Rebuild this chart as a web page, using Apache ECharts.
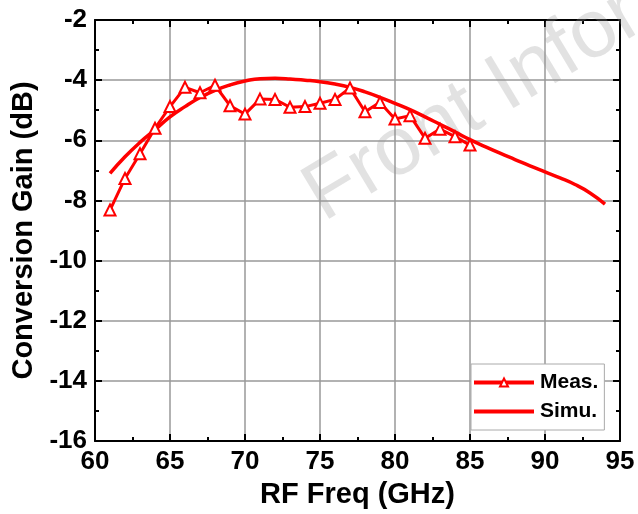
<!DOCTYPE html>
<html>
<head>
<meta charset="utf-8">
<script src="https://cdn.jsdelivr.net/npm/echarts@6/dist/echarts.min.js"></script>
<style>
  html, body { margin: 0; padding: 0; background: #fff; }
  #chart { width: 638px; height: 514px; }
</style>
</head>
<body>
<div id="chart"></div>
<script>
// Measured conversion gain (dB) versus RF frequency (GHz)
const measFreq = [61, 62, 63, 64, 65, 66, 67, 68, 69, 70, 71, 72, 73, 74, 75, 76, 77, 78, 79, 80, 81, 82, 83, 84, 85];
const measGain = [-8.32, -7.27, -6.45, -5.6, -4.88, -4.24, -4.42, -4.17, -4.85, -5.13, -4.63, -4.64, -4.9,
                  -4.88, -4.77, -4.64, -4.26, -5.05, -4.74, -5.29, -5.18, -5.93, -5.63, -5.88, -6.16];

// Simulated conversion gain (dB)
const simuFreq = [61, 62, 63, 64, 65, 66, 67, 68, 69, 70, 71, 72, 73, 74, 75, 76, 77, 78, 79, 80, 81, 82, 83, 84,
                  85, 86, 87, 88, 89, 90, 91, 92, 93, 94];
const simuGain = [-7.1, -6.55, -6.07, -5.65, -5.22, -4.88, -4.58, -4.34, -4.16, -4.03, -3.95, -3.94, -3.96, -4.0,
                  -4.05, -4.13, -4.24, -4.39, -4.57, -4.77, -4.98, -5.22, -5.47, -5.72, -5.98, -6.21, -6.43,
                  -6.64, -6.85, -7.05, -7.25, -7.47, -7.75, -8.12];

const xTicks = [60, 65, 70, 75, 80, 85, 90, 95];
const yTicks = [-16, -14, -12, -10, -8, -6, -4, -2];

const seriesNames = ['Meas.', 'Simu.'];

const FONT = '"Liberation Sans", Arial, Helvetica, sans-serif';
const RED = '#ff0000';

const pairs = (xs, ys) => xs.map((x, i) => [x, ys[i]]);

const frameLine = { show: true, onZero: false, lineStyle: { color: '#000', width: 2 } };
const tickIn = { show: true, inside: true, length: 7, lineStyle: { color: '#000', width: 2 } };
const minorIn = { show: true, splitNumber: 2, length: 4, lineStyle: { color: '#000', width: 2 } };

const xBase = {
  type: 'value',
  min: xTicks[0],
  max: xTicks[xTicks.length - 1],
  interval: xTicks[1] - xTicks[0]
};
const yBase = {
  type: 'value',
  min: yTicks[0],
  max: yTicks[yTicks.length - 1],
  interval: yTicks[1] - yTicks[0]
};

const chart = echarts.init(document.getElementById('chart'), null, { renderer: 'canvas' });

chart.setOption({
  animation: false,
  backgroundColor: '#fff',
  textStyle: { fontFamily: FONT },
  grid: { left: 95, right: 18, top: 20, bottom: 73, containLabel: false },
  graphic: [{
    type: 'text',
    x: 333,
    y: 238,
    rotation: 31 * Math.PI / 180,
    z: 1,
    silent: true,
    style: {
      text: 'Front Information',
      fontSize: 82,
      fontFamily: FONT,
      fill: 'rgba(150,150,150,0.28)',
      align: 'left',
      verticalAlign: 'bottom'
    }
  }],
  legend: {
    orient: 'vertical',
    left: 471,
    top: 364,
    width: 134,
    backgroundColor: '#fff',
    borderColor: '#aaaaaa',
    borderWidth: 1,
    padding: [8, 6, 8, 1],
    itemGap: 8,
    itemWidth: 60,
    itemHeight: 10,
    lineStyle: { width: 4 },
    data: [
      { name: seriesNames[0] },
      { name: seriesNames[1], itemStyle: { opacity: 0 } }
    ],
    textStyle: { fontFamily: FONT, fontSize: 21, fontWeight: 'bold', color: '#000', padding: [0, 0, 0, 1] }
  },
  xAxis: [
    Object.assign({}, xBase, {
      position: 'bottom',
      name: 'RF Freq (GHz)',
      nameLocation: 'middle',
      nameGap: 39,
      nameTextStyle: { fontFamily: FONT, fontSize: 29, fontWeight: 'bold', color: '#000' },
      axisLine: frameLine,
      axisTick: tickIn,
      minorTick: minorIn,
      axisLabel: { fontFamily: FONT, fontSize: 26, fontWeight: 'bold', color: '#000', margin: 8 },
      splitLine: { show: true, lineStyle: { color: '#999', width: 1.5 } }
    }),
    Object.assign({}, xBase, {
      position: 'top',
      axisLine: frameLine,
      axisTick: tickIn,
      minorTick: minorIn,
      axisLabel: { show: false },
      splitLine: { show: false }
    })
  ],
  yAxis: [
    Object.assign({}, yBase, {
      position: 'left',
      name: 'Conversion Gain (dB)',
      nameLocation: 'middle',
      nameGap: 46,
      nameTextStyle: { fontFamily: FONT, fontSize: 29, fontWeight: 'bold', color: '#000' },
      axisLine: frameLine,
      axisTick: tickIn,
      minorTick: minorIn,
      axisLabel: { fontFamily: FONT, fontSize: 26, fontWeight: 'bold', color: '#000', margin: 8 },
      splitLine: { show: true, lineStyle: { color: '#999', width: 1.5 } }
    }),
    Object.assign({}, yBase, {
      position: 'right',
      axisLine: frameLine,
      axisTick: tickIn,
      minorTick: minorIn,
      axisLabel: { show: false },
      splitLine: { show: false }
    })
  ],
  series: [
    {
      name: seriesNames[0],
      type: 'line',
      z: 4,
      data: pairs(measFreq, measGain),
      symbol: 'triangle',
      symbolSize: 11,
      showAllSymbol: true,
      lineStyle: { color: RED, width: 3 },
      itemStyle: { color: '#fff', borderColor: RED, borderWidth: 2 }
    },
    {
      name: seriesNames[1],
      type: 'line',
      z: 3,
      data: pairs(simuFreq, simuGain),
      symbol: 'none',
      smooth: 0.5,
      lineStyle: { color: RED, width: 3.5 },
      itemStyle: { color: RED }
    }
  ]
});
</script>
</body>
</html>
